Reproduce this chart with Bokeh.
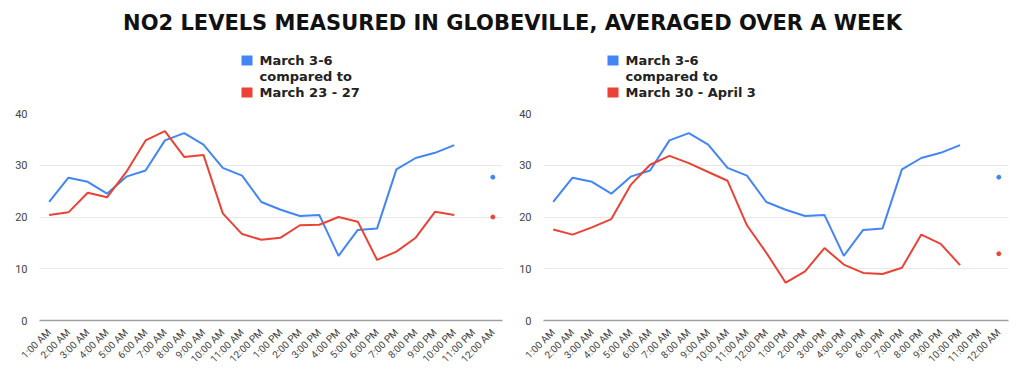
import numpy as np
from bokeh.plotting import figure
from bokeh.layouts import column, row
from bokeh.models import Range1d, FactorRange, FixedTicker, ColumnDataSource
from bokeh.core.properties import value
from bokeh.embed import file_html
from bokeh.resources import INLINE

title_text = "NO2 LEVELS MEASURED IN GLOBEVILLE, AVERAGED OVER A WEEK"

hours = ["1:00 AM", "2:00 AM", "3:00 AM", "4:00 AM", "5:00 AM", "6:00 AM",
         "7:00 AM", "8:00 AM", "9:00 AM", "10:00 AM", "11:00 AM", "12:00 PM",
         "1:00 PM", "2:00 PM", "3:00 PM", "4:00 PM", "5:00 PM", "6:00 PM",
         "7:00 PM", "8:00 PM", "9:00 PM", "10:00 PM", "11:00 PM", "12:00 AM"]

march_3_6 = [22.9, 27.6, 26.8, 24.5, 27.8, 29.0, 34.8, 36.2, 34.0, 29.5, 28.0, 22.9,
             21.4, 20.2, 20.4, 12.5, 17.5, 17.8, 29.2, 31.4, 32.4, 33.9, None, 27.7]
march_23_27 = [20.4, 20.9, 24.7, 23.8, 28.7, 34.8, 36.6, 31.6, 32.0, 20.7, 16.7, 15.6,
               16.0, 18.4, 18.5, 20.0, 19.1, 11.7, 13.3, 16.0, 21.0, 20.4, None, 20.0]
march_30_april_3 = [17.6, 16.6, 18.0, 19.6, 26.2, 30.1, 31.8, 30.4, 28.7, 27.0, 18.4, 13.1,
                    7.3, 9.5, 14.0, 10.8, 9.2, 9.0, 10.2, 16.6, 14.8, 10.7, None, 12.9]

base_label = ["March 3-6", "compared to"]
left_label = "March 23 - 27"
right_label = "March 30 - April 3"
y_ticks = [0, 10, 20, 30, 40]

BLUE = "#4285F4"
RED = "#EA4335"
FONT = "DejaVu Sans"
HEADER_H = 100


def to_arr(vals):
    return np.array([np.nan if v is None else v for v in vals], dtype=float)


def isolated(arr):
    n = len(arr)
    out = []
    for i in range(n):
        if np.isnan(arr[i]):
            continue
        left = i == 0 or np.isnan(arr[i - 1])
        right = i == n - 1 or np.isnan(arr[i + 1])
        if left and right:
            out.append(i)
    return out


def panel(red_vals, bl, br):
    p = figure(width=512, height=377 - HEADER_H, x_range=FactorRange(factors=hours, range_padding=0),
               y_range=Range1d(0, 40), toolbar_location=None, output_backend="svg",
               min_border_left=bl, min_border_right=br, min_border_top=13, min_border_bottom=57,
               outline_line_color=None)
    p.xgrid.visible = False
    p.ygrid.grid_line_color = "#e8e8e8"
    p.ygrid.grid_line_width = 1
    p.yaxis.ticker = FixedTicker(ticks=y_ticks)
    p.yaxis.axis_line_color = None
    p.yaxis.major_tick_line_color = None
    p.yaxis.minor_tick_line_color = None
    p.yaxis.major_label_text_font = "Roboto"
    p.yaxis.major_label_text_font_size = "11px"
    p.yaxis.major_label_text_color = "#444444"
    p.yaxis.major_label_standoff = 6
    p.xaxis.axis_line_color = "#9e9e9e"
    p.xaxis.axis_line_width = 1.5
    p.xaxis.major_tick_line_color = None
    p.xaxis.minor_tick_line_color = None
    p.xaxis.major_label_orientation = np.pi / 4
    p.xaxis.major_label_text_font = "Roboto"
    p.xaxis.major_label_text_font_size = "10px"
    p.xaxis.major_label_text_color = "#444444"
    p.xaxis.major_label_standoff = 4
    for vals, color in ((march_3_6, BLUE), (red_vals, RED)):
        arr = to_arr(vals)
        src = ColumnDataSource(dict(x=hours, y=arr))
        p.line("x", "y", source=src, line_color=color, line_width=2)
        idx = isolated(arr)
        p.scatter(x=[hours[i] for i in idx], y=[arr[i] for i in idx], size=4,
                  fill_color=color, line_color=color)
    return p


header = figure(width=1024, height=HEADER_H, x_range=Range1d(0, 1024), y_range=Range1d(HEADER_H, 0),
                toolbar_location=None, output_backend="svg", min_border=0,
                outline_line_color=None, x_axis_location=None, y_axis_location=None)
header.grid.visible = False
header.text(x=[512], y=[22], text=[title_text], text_align="center", text_baseline="middle",
            text_font=value(FONT), text_font_style="bold", text_font_size="21px", text_color="#111111")

for sx, lab in ((241, left_label), (607, right_label)):
    header.quad(left=[sx], right=[sx + 11], top=[55], bottom=[65], fill_color=BLUE, line_color=None)
    header.quad(left=[sx], right=[sx + 11], top=[87], bottom=[97], fill_color=RED, line_color=None)
    header.text(x=[sx + 18, sx + 18, sx + 18], y=[60, 76, 92], text=base_label + [lab],
                text_align="left", text_baseline="middle", text_font=value(FONT),
                text_font_style="bold", text_font_size="13px", text_color="#222222")

p1 = panel(march_23_27, 39, 10)
p2 = panel(march_30_april_3, 31, 16)

layout = column(header, row(p1, p2))
open("out.html", "w").write(file_html(layout, INLINE))
